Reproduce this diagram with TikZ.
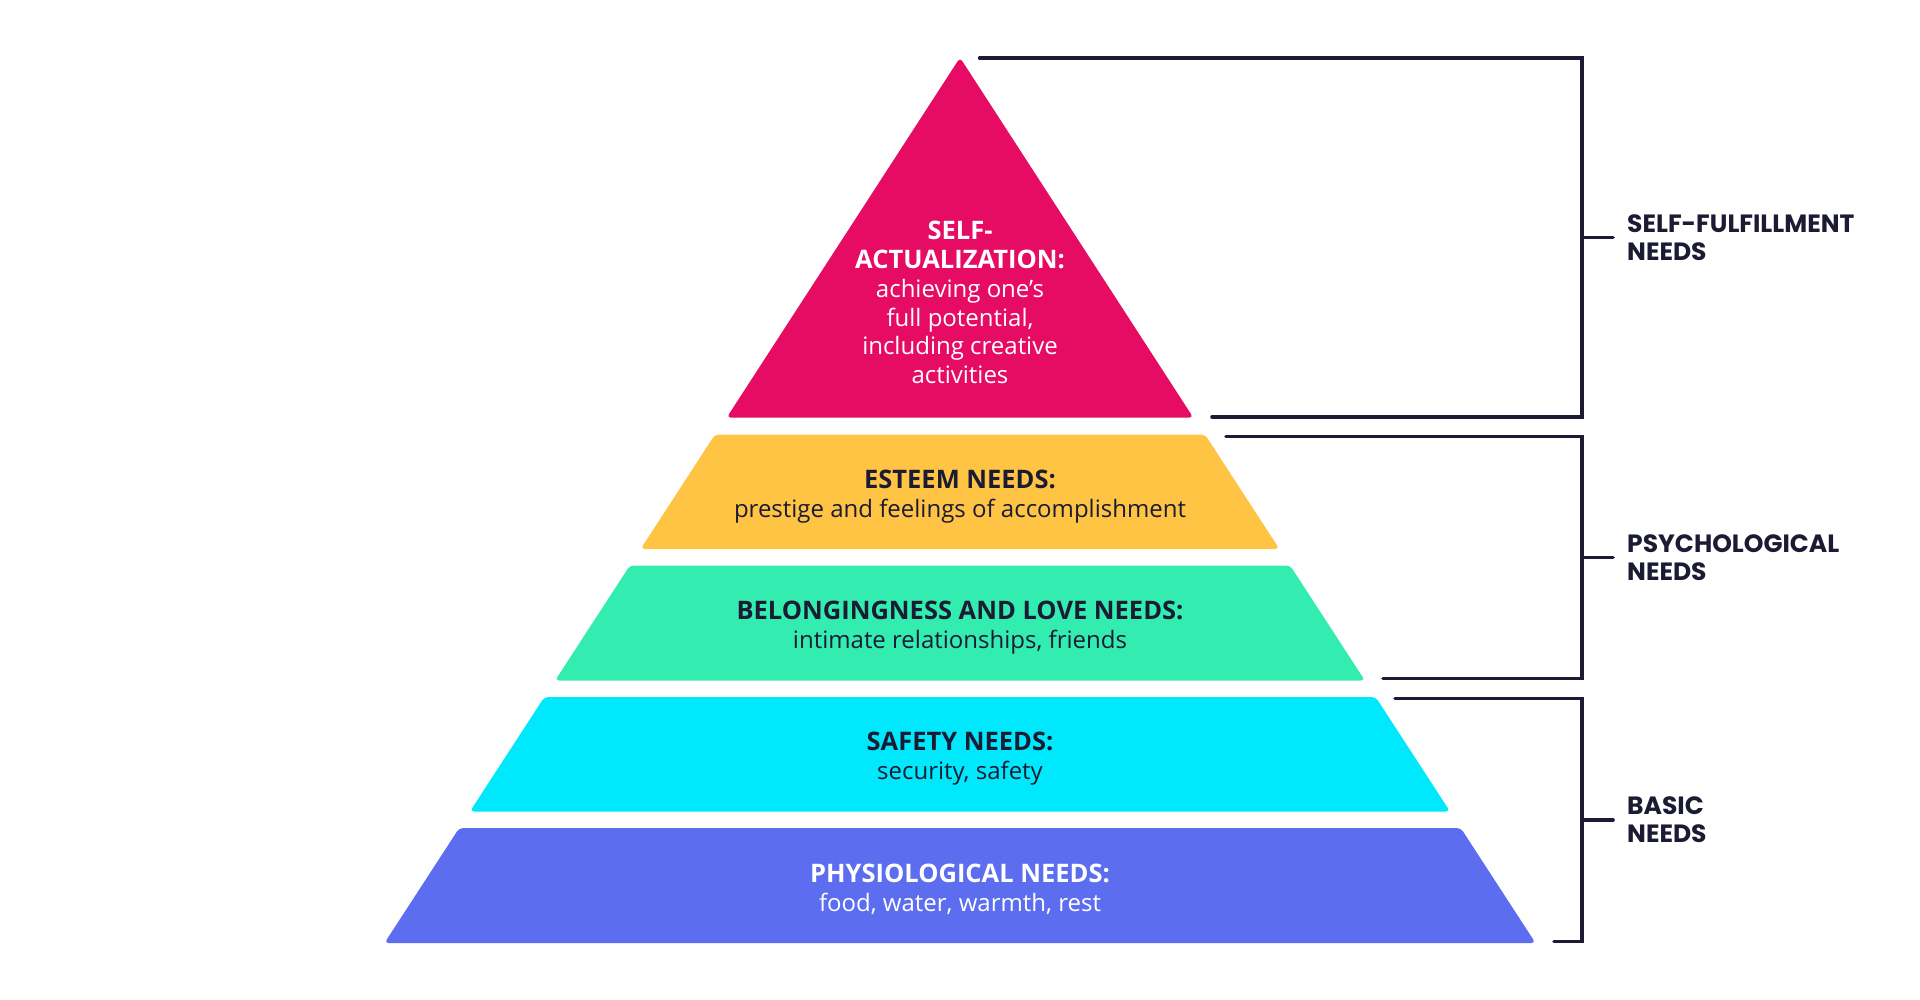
\documentclass[tikz,border=0pt]{standalone}
\usepackage{fontspec}
\setmainfont{Open Sans}
\newfontfamily\lblfont{Poppins}
\usetikzlibrary{calc}
\definecolor{cpink}{HTML}{E60B63}
\definecolor{cyellow}{HTML}{FFC444}
\definecolor{cgreen}{HTML}{33EDB0}
\definecolor{ccyan}{HTML}{00E8FC}
\definecolor{cblue}{HTML}{5D6DF0}
\definecolor{cdark}{HTML}{1B1C33}
\newcommand{\ttl}[1]{{\fontsize{25.5}{28.9}\selectfont\bfseries #1}}
\tikzset{
  txt/.style={inner sep=0pt, align=center, font=\fontsize{24}{28.9}\selectfont},
  grp/.style={inner sep=0pt, align=left, anchor=west, text=cdark, font=\lblfont\bfseries\fontsize{25}{28.2}\selectfont},
  brk/.style={draw=cdark, line width=3.6pt, line cap=round, line join=miter},
  lay/.style={rounded corners=4pt}
}
\begin{document}
\begin{tikzpicture}[x=1pt,y=-1pt]
\useasboundingbox[fill=white] (0,0) rectangle (1920,1000);
% pyramid
\fill[cpink, lay] (960,57.6) -- (1193.3,417.6) -- (726.7,417.6) -- cycle;
\foreach \yt/\yb/\col in {434.5/549/cyellow, 565.5/680.5/cgreen, 697/811.5/ccyan, 828/943/cblue} {
  \pgfmathsetmacro\ht{0.65*(\yt-57.6)}
  \pgfmathsetmacro\hb{0.65*(\yb-57.6)}
  \fill[\col, lay] ({960-\ht},\yt) -- ({960+\ht},\yt) -- ({960+\hb},\yb) -- ({960-\hb},\yb) -- cycle;
}
% texts
\node[txt, text=white] (sa) at (960,302.5) {\ttl{SELF-}\\\ttl{ACTUALIZATION:}\\achieving one’s\\full potential,\\including creative\\activities};
\node[txt, text=cdark] (es) at (960,496.5) {\ttl{ESTEEM NEEDS:}\\prestige and feelings of accomplishment};
\node[txt, text=cdark] (bl) at (960,627.5) {\ttl{BELONGINGNESS AND LOVE NEEDS:}\\intimate relationships, friends};
\node[txt, text=cdark] (sf) at (960,758.5) {\ttl{SAFETY NEEDS:}\\security, safety};
\node[txt, text=white] (ph) at (960,889) {\ttl{PHYSIOLOGICAL NEEDS:}\\food, water, warmth, rest};
% bracket coordinates
\coordinate (b1s) at (979.6,58);
\coordinate (b1t) at (1582,58);
\coordinate (b1b) at (1582,417);
\coordinate (b1e) at (1212,417);
\coordinate (b2s) at (1226,436.5);
\coordinate (b2t) at (1582,436.5);
\coordinate (b2b) at (1582,678.5);
\coordinate (b2e) at (1383,678.5);
\coordinate (b3s) at (1395,698.5);
\coordinate (b3t) at (1582,698.5);
\coordinate (b3b) at (1582,941.5);
\coordinate (b3e) at (1554,941.5);
\coordinate (m1) at (1582,237.5);
\coordinate (m2) at (1582,557.5);
\coordinate (m3) at (1582,820);
\coordinate (k1) at (1613,237.5);
\coordinate (k2) at (1613,557.5);
\coordinate (k3) at (1613,820);
\draw[brk] (b1s) -- (b1t) -- (b1b) -- (b1e);
\draw[brk] (b2s) -- (b2t) -- (b2b) -- (b2e);
\draw[brk] (b3s) -- (b3t) -- (b3b) -- (b3e);
\draw[brk] (m1) -- (k1);
\draw[brk] (m2) -- (k2);
\draw[brk] (m3) -- (k3);
% group labels
\node[grp] (g1) at (1627,237.5) {SELF-FULFILLMENT\\NEEDS};
\node[grp] (g2) at (1627,557.5) {PSYCHOLOGICAL\\NEEDS};
\node[grp] (g3) at (1627,820) {BASIC\\NEEDS};
\end{tikzpicture}
\end{document}
